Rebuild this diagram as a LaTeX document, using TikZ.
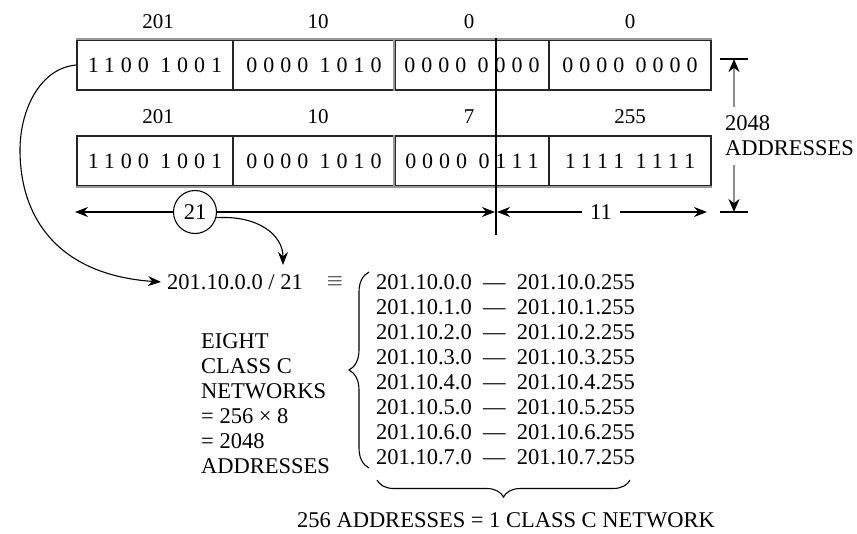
\documentclass[tikz,border=0pt]{standalone}
\usepackage{fontspec}
\setmainfont{Liberation Serif}
\newfontfamily\bitfont[LetterSpace=27]{Liberation Serif}
\usetikzlibrary{arrows.meta,decorations.pathreplacing}
\begin{document}
\begin{tikzpicture}[x=1pt,y=-1pt,
  font=\fontsize{22.5}{25}\selectfont,
  cell/.style={draw=black!85, line width=1.3pt, minimum height=50pt, inner sep=0pt,
               font=\bitfont\fontsize{22}{24}\selectfont},
  toplab/.style={font=\fontsize{21}{24}\selectfont, inner sep=0pt},
  grayline/.style={draw=black!40, line width=2.2pt},
  arr/.style={line width=1.1pt, -{Stealth[length=13pt,width=10pt]}},
  grayarr/.style={draw=black!45, line width=2pt, -{Stealth[length=13pt,width=11pt,color=black]}},
  bracedeco/.style={decorate, line width=1.1pt, decoration={brace, amplitude=#1}},
  plain/.style={inner sep=0pt}
]
\useasboundingbox (0,0) rectangle (857,533);

% row 1
\node[cell, minimum width=156pt] (c11) at (155,65) {1100 1001};
\node[cell, minimum width=162pt] (c12) at (314,65) {0000 1010};
\node[cell, minimum width=154pt] (c13) at (472,65) {0000 0000};
\node[cell, minimum width=162pt] (c14) at (630,65) {0000 0000};
% row 2
\node[cell, minimum width=156pt] (c21) at (155,161) {1100 1001};
\node[cell, minimum width=162pt] (c22) at (314,161) {0000 1010};
\node[cell, minimum width=154pt] (c23) at (472,161) {0000 0111};
\node[cell, minimum width=162pt] (c24) at (630,161) {1111 1111};

% gray edges
\draw[grayline] (c11.north west) -- (c14.north east);
\draw[grayline] (c21.south west) -- (c24.south east);
\draw[grayline] (c13.north west) -- (c13.south west);
\draw[grayline] (c23.north west) -- (c23.south west);

% top labels
\node[toplab] (l11) at (158,22) {201};
\node[toplab] (l12) at (318,22) {10};
\node[toplab] (l13) at (469,22) {0};
\node[toplab] (l14) at (630,22) {0};
\node[toplab] (l21) at (158,117) {201};
\node[toplab] (l22) at (318,117) {10};
\node[toplab] (l23) at (469,117) {7};
\node[toplab] (l24) at (630,117) {255};

% cut line
\coordinate (cutT) at (496,38);
\coordinate (cutB) at (496,235);
\draw[line width=1.2pt] (cutT) -- (cutB);
\coordinate (cutM) at (496,212);

% dimension row
\node[circle, draw, line width=1.1pt, minimum size=43pt, inner sep=0pt] (n21) at (195,212) {21};
\coordinate (Lend) at (75,212);
\coordinate (Rend) at (707,212);
\draw[arr] (n21.west) -- (Lend);
\draw[arr] (n21.east) -- ([xshift=-1pt]cutM);
\node[inner sep=8pt] (n11) at (601,212) {11};
\draw[arr] (n11.west) -- ([xshift=1pt]cutM);
\draw[arr] (n11.east) -- (Rend);

% 2048 addresses
\coordinate (tickT) at (734,59);
\coordinate (tickB) at (734,212);
\draw[line width=1.3pt] ([xshift=-14pt]tickT) -- ([xshift=14pt]tickT);
\draw[line width=1.3pt] ([xshift=-14pt]tickB) -- ([xshift=14pt]tickB);
\node[align=left, anchor=west, inner xsep=0pt, inner ysep=9pt] (addr) at (725,136) {2048\\ADDRESSES};
\draw[grayarr] ([xshift=9pt]addr.north west) -- (tickT);
\draw[grayarr] ([xshift=9pt]addr.south west) -- (tickB);

% CIDR text
\node[anchor=west, inner xsep=6pt, inner ysep=0pt] (cidr) at (161,282) {201.10.0.0 / 21};
\node[plain] (equiv) at (335,282) {$\equiv$};
\coordinate (tip2) at (283,265);
\draw[arr] (c11.west) .. controls (40,68) and (20,110) .. (20,150)
           .. controls (20,220) and (60,275) .. (cidr.west);
\draw[arr] (n21.-15) .. controls (258,215) and (283,235) .. (tip2);

% address lines
\foreach \i in {0,...,7}{
  \node[anchor=west, plain] (a\i) at (376,282+25*\i)
    {201.10.\i.0\hspace{0.5em}---\hspace{0.5em}201.10.\i.255};
}

% left brace
\coordinate (lbB) at (369,468);
\coordinate (lbT) at (369,272);
\draw[bracedeco=20pt] (lbB) -- (lbT);

% explanation
\node[align=left, anchor=west, plain] (expl) at (201,404) {EIGHT\\CLASS C\\NETWORKS\\= 256 × 8\\= 2048\\ADDRESSES};

% bottom brace
\coordinate (bbR) at (630,480);
\coordinate (bbL) at (377,480);
\draw[bracedeco=17pt] (bbR) -- (bbL);
\node[plain] (foot) at (506,520) {256 ADDRESSES = 1 CLASS C NETWORK};
\end{tikzpicture}
\end{document}
